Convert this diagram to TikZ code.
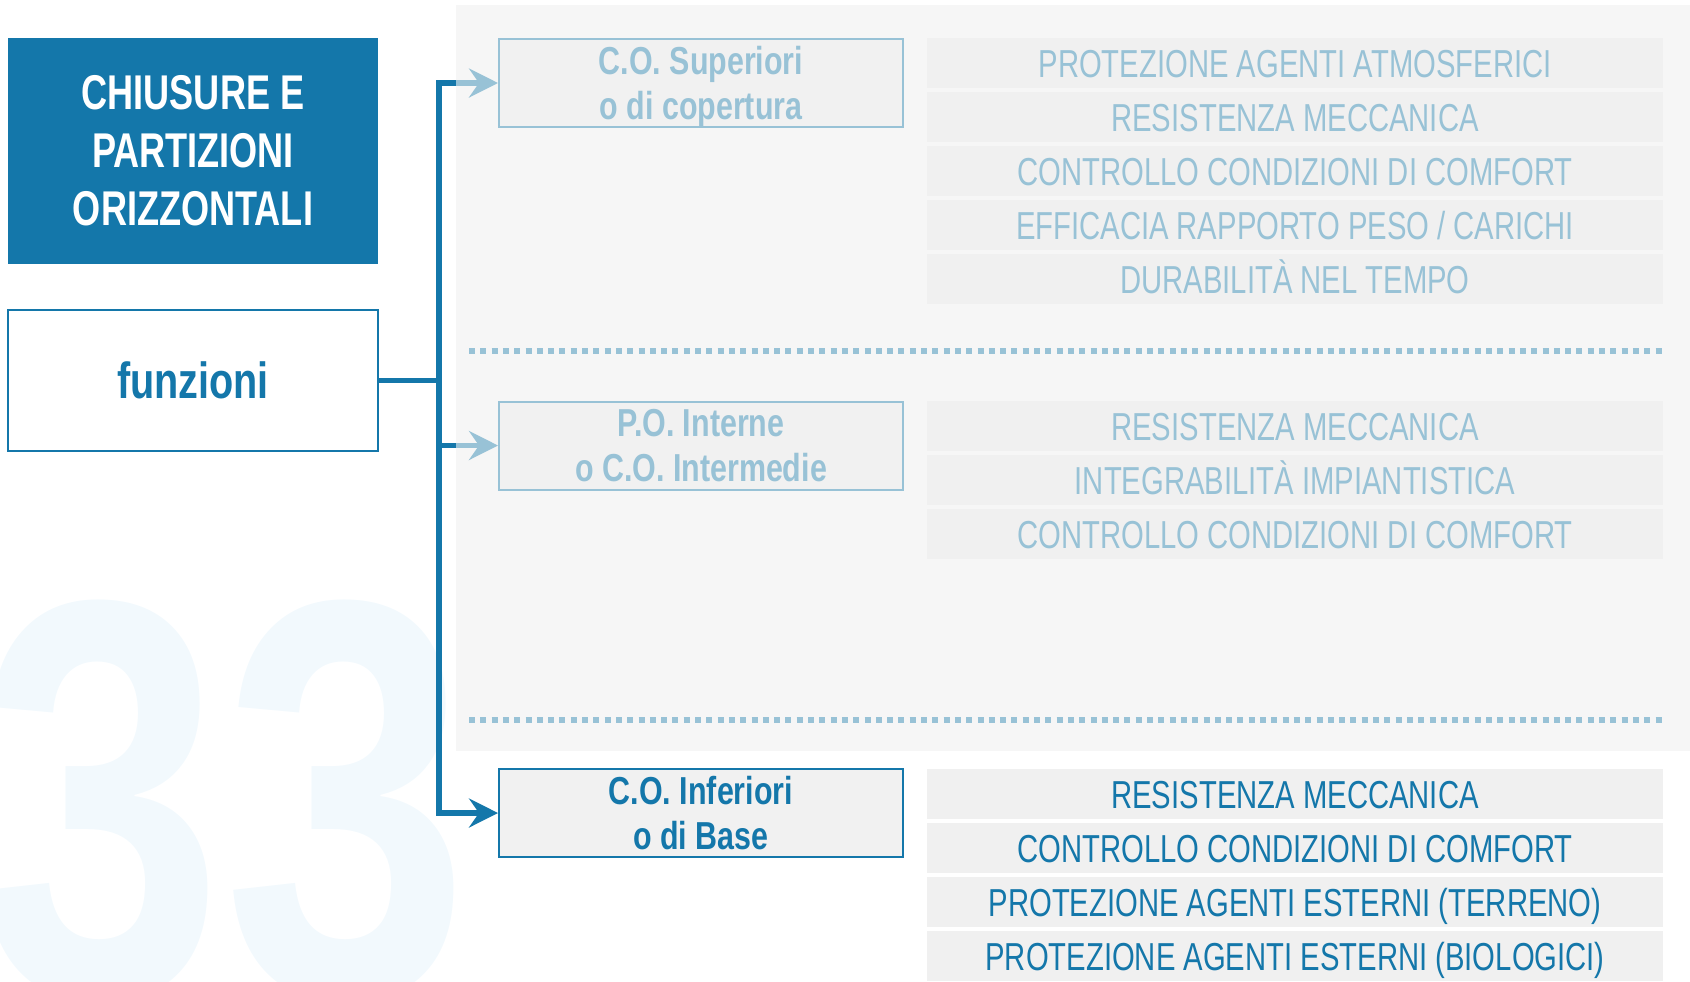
\documentclass[tikz,border=0pt]{standalone}
\usepackage{fontspec}
\setmainfont{Liberation Sans}
\newfontfamily\fontbarra{Liberation Sans}[FakeStretch=0.75]
\newfontfamily\fonttitolo{Liberation Sans}[FakeStretch=0.74]
\newfontfamily\fontscatola{Liberation Sans}[FakeStretch=0.78]
\newfontfamily\fontnumero{Liberation Sans}[FakeStretch=0.78]
\usetikzlibrary{arrows.meta}
\definecolor{blu}{RGB}{20,119,170}
\definecolor{celeste}{RGB}{152,194,214}
\definecolor{grigiopannello}{RGB}{246,246,246}
\definecolor{grigiobarra}{RGB}{240,240,240}
\definecolor{grigioscatola}{RGB}{241,241,241}
\definecolor{azzurrino}{RGB}{242,249,253}
\begin{document}
\begin{tikzpicture}[x=0.5pt,y=-0.5pt,line join=miter,>={Stealth[length=14.5pt,width=14.5pt,inset=5pt]}]
	\tikzset{barra/.style={fill=grigiobarra,minimum width=368pt,minimum height=25pt,inner sep=0pt,text height=14pt,text depth=0pt,font=\fontbarra\fontsize{19.5}{22}\selectfont},
		scatola/.style={fill=grigioscatola,draw,line width=1pt,minimum width=202pt,minimum height=44pt,inner sep=0pt,align=center,font=\fontscatola\bfseries\fontsize{19.5}{22.5}\selectfont},
		linea/.style={line width=2.6pt},
		punteggiata/.style={celeste,line width=3pt,dash pattern=on 3pt off 2.65pt}}
	\useasboundingbox(0,0)rectangle(1690,981);
	\clip(0,0)rectangle(1690,981);
	%%%%%%%%%% numero di sfondo
	\node[anchor=base west,inner sep=0pt,text=azzurrino,font=\fontnumero\bfseries\fontsize{284}{284}\selectfont](numero) at (-23,996){33};
	%%%%%%%%%% pannello grigio
	\fill[grigiopannello](456,5)rectangle(1700,751);
	\coordinate(tronco) at (439,0);
	\coordinate(pannello) at (456,0);
	\foreach \y in {351,720}
	\draw[punteggiata](469,\y)--(1663,\y);
	%%%%%%%%%% titolo e funzioni
	\node[fill=blu,text=white,minimum width=185pt,minimum height=113pt,inner sep=0pt,align=center,font=\fonttitolo\bfseries\fontsize{24.4}{29}\selectfont](titolo) at (193,151){CHIUSURE E\\PARTIZIONI\\ORIZZONTALI};
	\node[draw=blu,line width=0.75pt,text=blu,minimum width=185pt,minimum height=70.5pt,inner sep=0pt,font=\fontscatola\bfseries\fontsize{25.4}{28}\selectfont](fun) at (193,380.5){funzioni};
	%%%%%%%%%% scatole
	\node[scatola,draw=celeste,text=celeste](sup) at (701,83){C.O. Superiori\\\smash{o di copertura}};
	\node[scatola,draw=celeste,text=celeste](int) at (701,445.5){P.O. Interne\\o C.O. Intermedie};
	\node[scatola,draw=blu,text=blu](inf) at (701,813){C.O. Inferiori\\o di Base};
	%%%%%%%%%% requisiti
	\foreach \testo [count=\i] in {PROTEZIONE AGENTI ATMOSFERICI,RESISTENZA MECCANICA,CONTROLLO CONDIZIONI DI COMFORT,EFFICACIA RAPPORTO PESO / CARICHI,DURABILITÀ NEL TEMPO}
	\node[barra,text=celeste](a\i) at (1295,{63+54*(\i-1)}){\testo};
	\foreach \testo [count=\i] in {RESISTENZA MECCANICA,INTEGRABILITÀ IMPIANTISTICA,CONTROLLO CONDIZIONI DI COMFORT}
	\node[barra,text=celeste](b\i) at (1295,{426+54*(\i-1)}){\testo};
	\foreach \testo [count=\i] in {RESISTENZA MECCANICA,CONTROLLO CONDIZIONI DI COMFORT,PROTEZIONE AGENTI ESTERNI (TERRENO),PROTEZIONE AGENTI ESTERNI (BIOLOGICI)}
	\node[barra,text=blu](c\i) at (1295,{794+54*(\i-1)}){\testo};
	%%%%%%%%%% collegamenti
	\draw[linea,blu](fun.east)--(fun.east-|tronco);
	\draw[linea,blu,->](sup.west-|pannello)--(sup.west-|tronco)|-(inf.west);
	\draw[linea,blu](int.west-|tronco)--(int.west-|pannello);
	\draw[linea,celeste,->](sup.west-|pannello)--(sup.west);
	\draw[linea,celeste,->](int.west-|pannello)--(int.west);
\end{tikzpicture}
\end{document}
